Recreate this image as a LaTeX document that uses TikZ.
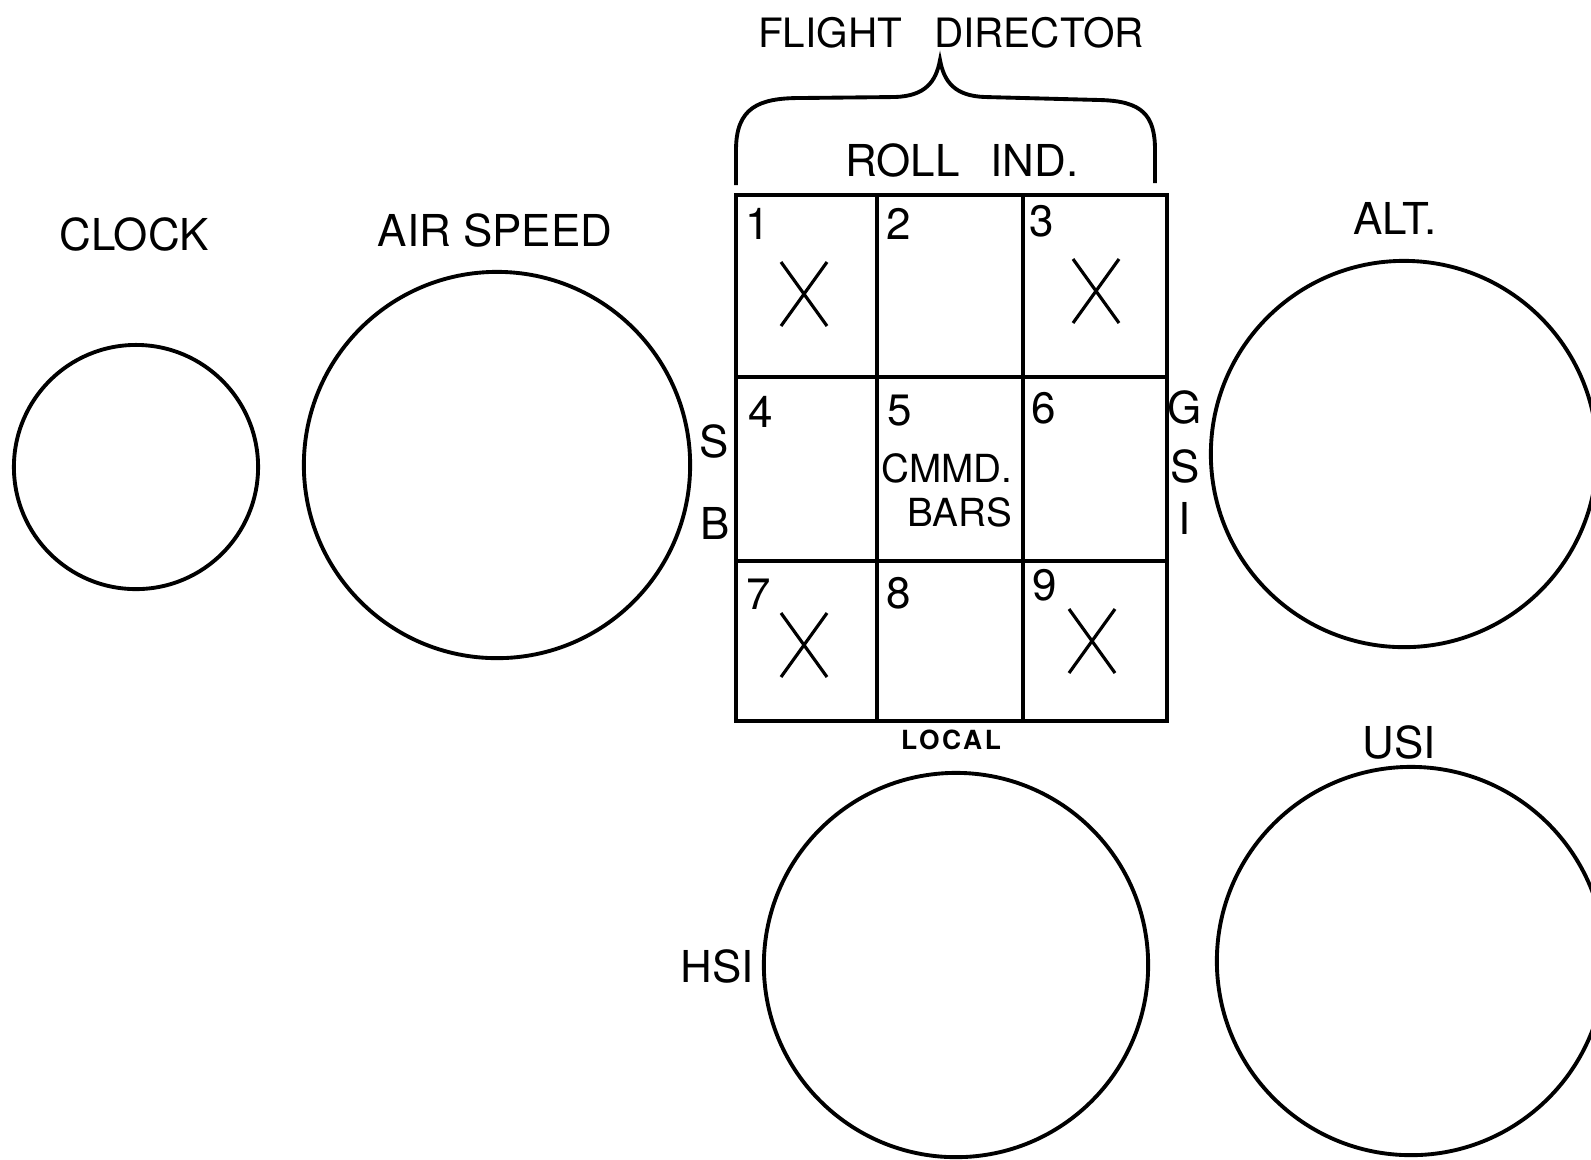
\documentclass[tikz,border=0pt]{standalone}
\usepackage{fontspec}
\setmainfont{TeX Gyre Heros}
\begin{document}
\begin{tikzpicture}[x=0.01cm, y=-0.01cm,
  lbl/.style={font=\fontsize{12.5}{15}\selectfont, inner sep=0pt},
  cellnum/.style={lbl, anchor=north west},
  dial/.style={circle, draw, line width=1.1pt, inner sep=0pt},
  gridline/.style={line width=1.3pt}]

\useasboundingbox (0,0) rectangle (1591,1159);

\draw[gridline] (736,195) rectangle (1167,721);
\foreach \x in {877,1023}
    \draw[gridline] (\x,195) -- (\x,721);
\foreach \y in {377,561}
    \draw[gridline] (736,\y) -- (1167,\y);

\foreach \x/\y/\num in {
  745/208/1,
  886/208/2,
  1029/205/3,
  748/396/4,
  887/394/5,
  1031/392/6,
  746/578/7,
  886/577/8,
  1032/569/9}
    \node[cellnum] (n\num) at (\x,\y) {\num};

\foreach \cx/\cy in {804/294, 1096/291, 804/645, 1092/641}
    \draw[line width=0.9pt] (\cx-23,\cy+32) -- (\cx+23,\cy-32)
                            (\cx-23,\cy-32) -- (\cx+23,\cy+32);

\node[lbl, align=right, anchor=north east, font=\fontsize{11}{12.5}\selectfont] (cmmd) at (1013,453) {CMMD.\\BARS};

\foreach \x/\y/\r/\name in {
  136/467/122/clockdial,
  497/465/193/airdial,
  1404/454/193/altdial,
  956/965/192/hsidial,
  1411/961/194/usidial}
    \node[dial, minimum size={\r*0.02cm}] (\name) at (\x,\y) {};

\foreach \x/\y/\name/\txt in {
  134/234/clock/CLOCK,
  495/230/airspeed/AIR SPEED,
  1395/218/alt/ALT.,
  1399/742/usi/USI,
  717/966/hsi/HSI,
  714/441/sbl/S,
  715/523/bbl/B,
  1185/407/ggr/G,
  1185/466/sgr/S,
  1185/518/igr/I}
    \node[lbl] (\name) at (\x,\y) {\txt};

\node[lbl, font=\fontsize{11.5}{14}\selectfont] (flightdir) at (951,33) {FLIGHT\hspace{0.8em}DIRECTOR};
\node[lbl] (rollind) at (962,160) {ROLL\hspace{0.7em}IND.};
\node[lbl, font=\bfseries\fontsize{7.5}{9}\selectfont\addfontfeature{LetterSpace=10}] (local) at (951,740) {LOCAL};

\draw[line width=1.1pt] (736,185) -- (736,150)
  .. controls (736,108) and (758,98) .. (800,98) -- (895,97)
  .. controls (925,96) and (936,82) .. (940,60)
  .. controls (944,82) and (955,96) .. (985,97) -- (1100,100)
  .. controls (1142,101) and (1155,115) .. (1155,150) -- (1155,183);

\end{tikzpicture}
\end{document}
